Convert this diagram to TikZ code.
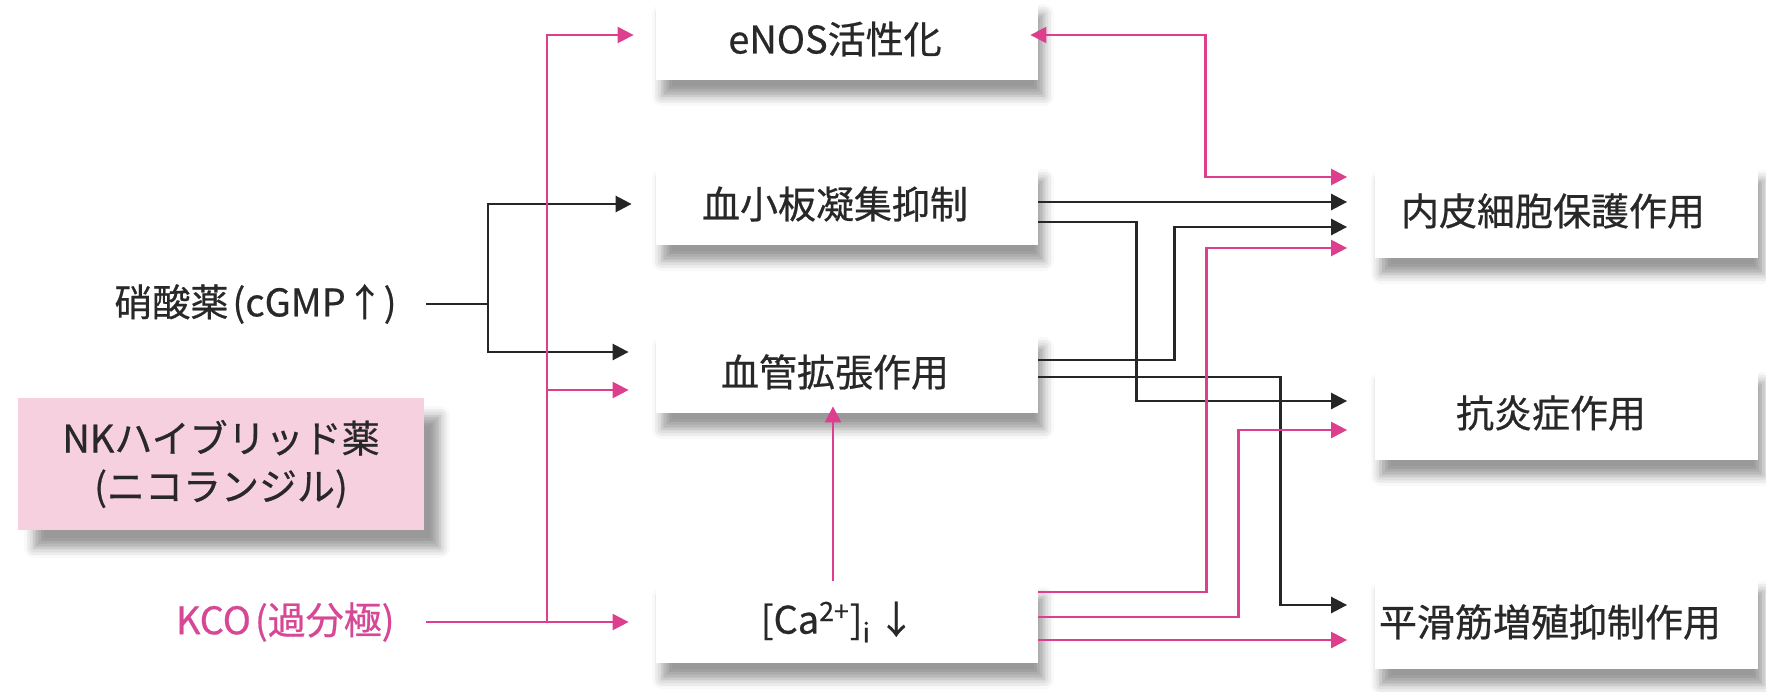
\documentclass[tikz,border=0pt]{standalone}
\usepackage{fontspec}
\setmainfont{Noto Sans CJK JP}[FakeBold=0.6]
\usetikzlibrary{arrows.meta,calc,shadows.blur}
\definecolor{pk}{RGB}{222,62,142}
\definecolor{pktext}{RGB}{214,72,150}
\definecolor{nkfill}{RGB}{247,208,224}
\definecolor{dk}{RGB}{38,38,38}
\definecolor{txt}{RGB}{40,40,40}
\begin{document}
\begin{tikzpicture}[x=0.5pt,y=-0.5pt,
  font=\fontsize{19pt}{24pt}\selectfont,
  mbox/.style={fill=white, text=txt, inner sep=0pt, minimum width=191pt, minimum height=41pt,
    blur shadow={shadow xshift=3pt, shadow yshift=-8pt, shadow blur radius=5pt, shadow opacity=40}},
  rbox/.style={mbox, minimum width=191.5pt, minimum height=47pt},
  nkbox/.style={fill=nkfill, text=txt, inner sep=0pt, minimum width=203pt, minimum height=66pt, align=center,
    blur shadow={shadow xshift=8pt, shadow yshift=-9pt, shadow blur radius=5pt, shadow opacity=40}},
  lbl/.style={inner ysep=0pt, text=txt},
  tip/.tip={Triangle[length=8pt,width=8pt]},
  blk/.style={draw=dk, line width=1.3pt, -tip},
  pnk/.style={draw=pk, line width=1.2pt, -tip}
]
\useasboundingbox (0,0) rectangle (1766,691);

% middle boxes
\node[mbox] (enos) at (847,39) {\hspace*{-12pt}eNOS活性化};
\node[mbox] (plt) at (847,204) {\hspace*{-12pt}血小板凝集抑制};
\node[mbox] (vas) at (847,372) {\hspace*{-12pt}血管拡張作用};
\node[mbox] (ca) at (847,622) {\hspace*{-9pt}[Ca\textsuperscript{2+}]\textsubscript{i}\,↓};

% right boxes
\node[rbox] (endo) at (1566,211) {\hspace*{-13pt}内皮細胞保護作用};
\node[rbox] (anti) at (1566,413) {\hspace*{-15pt}抗炎症作用};
\node[rbox] (smooth) at (1566,622) {\hspace*{-16pt}平滑筋増殖抑制作用};

% left
\node[nkbox] (nk) at (221,464) {NKハイブリッド薬\\(ニコランジル)};
\node[lbl, anchor=east, inner xsep=14.5pt] (nit) at (426,304) {硝酸薬\hspace{2pt}(cGMP↑)};
\node[lbl, anchor=east, inner xsep=15.5pt, text=pktext] (kco) at (426,622) {KCO\hspace{2pt}(過分極)};

\coordinate (j1) at (488,304);
\coordinate (j2) at (547,622);

% black connectors from nitrate
\draw[blk, shorten >=12pt] (nit.east) -- (j1) |- (plt.west);
\draw[blk, shorten >=13.5pt] (j1) |- ($(vas.west)+(0,-20)$);

% pink connectors from KCO
\draw[pnk, shorten >=13.5pt] (kco.east) -- (ca.west);
\draw[pnk, shorten >=13.5pt] (j2) |- ($(vas.west)+(0,18)$);
\draw[pnk, shorten >=11pt] (j2) |- ($(enos.west)+(0,-4)$);

% eNOS <-> endothelial
\draw[draw=pk, line width=1.2pt, tip-tip, shorten <=-4pt, shorten >=13.5pt]
  ($(enos.east)+(0,-4)$) -- ++(167,0) |- ($(endo.west)+(0,-34)$);

% black connectors to the right
\draw[blk, shorten >=13.5pt] ($(plt.east)+(0,-2)$) -- ($(endo.west)+(0,-9)$);
\draw[blk, shorten >=13.5pt] ($(plt.east)+(0,18)$) -- ++(98,0) |- ($(anti.west)+(0,-12)$);
\draw[blk, shorten >=13.5pt] ($(vas.east)+(0,-12)$) -- ++(136,0) |- ($(endo.west)+(0,16)$);
\draw[blk, shorten >=13.5pt] ($(vas.east)+(0,5)$) -- ++(242,0) |- ($(smooth.west)+(0,-17)$);

% pink connectors from Ca
\draw[pnk, shorten >=13.5pt] ($(ca.east)+(0,-30)$) -- ++(168,0) |- ($(endo.west)+(0,37)$);
\draw[pnk, shorten >=13.5pt] ($(ca.east)+(0,-5)$) -- ++(200,0) |- ($(anti.west)+(0,17)$);
\draw[pnk, shorten >=13.5pt] ($(ca.east)+(0,18)$) -- ($(smooth.west)+(0,18)$);
\draw[pnk, shorten >=-3.5pt] ($(ca.north)+(-14,0)$) -- ($(vas.south)+(-14,0)$);
\end{tikzpicture}
\end{document}
